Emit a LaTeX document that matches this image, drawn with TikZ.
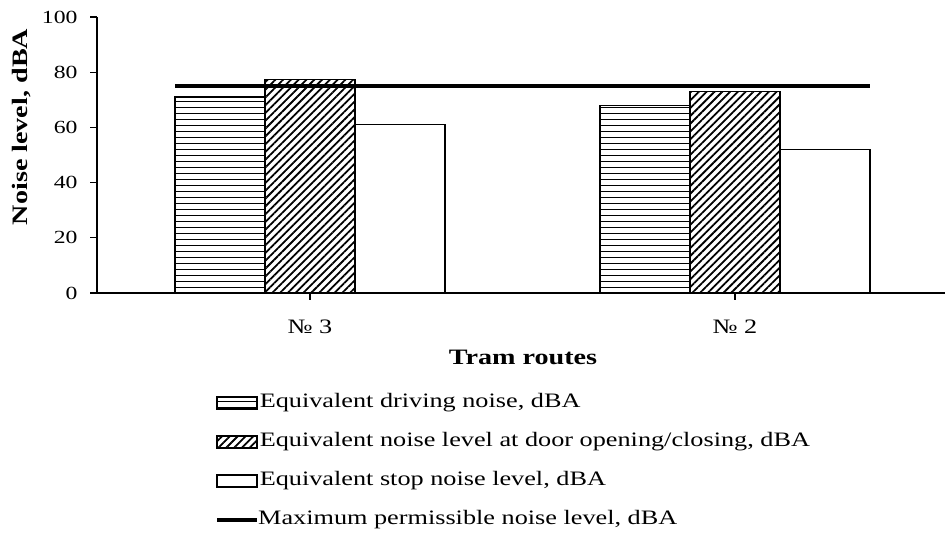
\documentclass[tikz,border=0pt]{standalone}
\usepackage{fontspec}
\setmainfont{Liberation Serif}[FakeStretch=1.28]
\usetikzlibrary{positioning,patterns.meta}
\tikzset{
	bar/.style={draw, line width=1.1pt},
	stripes/.style={bar, pattern={Lines[distance=6pt, line width=1pt]}},
	hatch/.style={bar, pattern={Lines[angle=45, distance=5.5pt, line width=1.8pt]}},
	plain/.style={bar, fill=white},
	maxline/.style={line width=3.6pt},
	axis/.style={line width=1.1pt},
	tick/.style={font=\fontsize{18.5}{22}\selectfont, inner sep=0pt},
	lab/.style={font=\fontsize{20.5}{24}\selectfont, inner sep=0pt},
	bold/.style={font=\fontsize{22}{26}\selectfont\bfseries, inner sep=0pt},
}

\begin{document}
\begin{tikzpicture}[x=1pt, y=1pt]
	\useasboundingbox (0,0) rectangle (945,534);

	% plot area, 1 dBA = 2.76pt
	\begin{scope}[shift={(97,241)}, y=2.76pt]
		\draw[stripes] (78,0) rectangle (168,71);
		\draw[hatch] (168,0) rectangle (258,77.5);
		\draw[plain] (258,0) rectangle (348,61);

		\draw[stripes] (503,0) rectangle (593,68);
		\draw[hatch] (593,0) rectangle (683,73);
		\draw[plain] (683,0) rectangle (773,52);

		\draw[maxline] (78,75) -- (773,75);

		\coordinate (o) at (0,0);
		\coordinate (top) at (0,100);
		\coordinate (end) at (848,0);
		\coordinate (g3) at (213,0);
		\coordinate (g2) at (638,0);
		\draw[axis] (top) -- (o) -- (end);
		\foreach \v in {0,20,...,100}
			\draw[axis] (0,\v) -- ++(-7pt,0pt) node[tick, anchor=east, xshift=-12pt] (t\v) {\v};
		\draw[axis] (g3) -- ++(0pt,-7pt);
		\draw[axis] (g2) -- ++(0pt,-7pt);
		\node[lab] (r3) at ([yshift=-34pt]g3) {№ 3};
		\node[lab] (r2) at ([yshift=-34pt]g2) {№ 2};
	\end{scope}

	\node[bold, rotate=90] (ylab) at (22,407) {Noise level, dBA};
	\node[bold] (xlab) at (523,177) {Tram routes};

	% legend
	\node[stripes, minimum width=40pt, minimum height=12pt] (key1) at (237,131) {};
	\node[hatch, minimum width=40pt, minimum height=12pt] (key2) at (237,92) {};
	\node[plain, minimum width=40pt, minimum height=12pt] (key3) at (237,53) {};
	\coordinate (key4a) at (217,14);
	\coordinate (key4b) at (257,14);
	\draw[maxline] (key4a) -- (key4b);
	\node[lab, right=2pt of key1] (leg1) {Equivalent driving noise, dBA};
	\node[lab, right=2pt of key2] (leg2) {Equivalent noise level at door opening/closing, dBA};
	\node[lab, right=2pt of key3] (leg3) {Equivalent stop noise level, dBA};
	\node[lab, right=1pt of key4b] (leg4) {Maximum permissible noise level, dBA};
\end{tikzpicture}
\end{document}
